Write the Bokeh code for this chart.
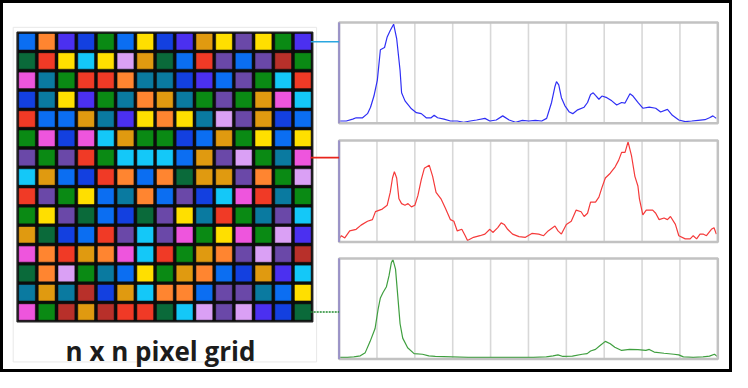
from bokeh.plotting import figure
from bokeh.models import Range1d
from bokeh.embed import file_html
from bokeh.resources import INLINE
from bokeh.core.properties import value

# ---------------- data ----------------
color_codes = {
    "B": "#0b6ef2", "D": "#1340e0", "V": "#4b30f0", "P": "#6a48a8",
    "O": "#ff8530", "A": "#e09a10", "Y": "#ffdf00", "G": "#0a8a14",
    "K": "#0a6a3a", "R": "#f03a26", "M": "#b8302a", "C": "#14c8f8",
    "L": "#daa0f5", "T": "#0a7aa0", "Z": "#ee55dd",
}
grid_rows = [
    "BOVDGBYDVAYPYGV",
    "KRYCYLAKBRPBPMG",
    "ZTGRROTTDVBPGCR",
    "DTYVGTOATGPGAZC",
    "RBBATVYOYTLPADB",
    "GZDZCAGGDBAGYBY",
    "PGPRGCCCBAPLGTZ",
    "CABDROBOKAAPOGL",
    "RPGYBTOBPDCZRTG",
    "GYPKBDKPYTRGTPC",
    "AKDBRPCPZGYZGLV",
    "ZORAOZCRGAOPLPM",
    "KOLGTBYGAOBDAVC",
    "TATMDACOOBPPTBY",
    "ZGMAMRRKCLPLVDK",
]
grid_label = "n x n pixel grid"
probe_rows = [0, 6, 14]  # grid rows linked to the three spectra

blue_x = [0.00, 0.19, 0.36, 0.45, 0.62, 0.75, 0.83, 0.92, 1.01, 1.09, 1.20, 1.27, 1.35, 1.44, 1.52, 1.61,
          1.65, 1.74, 1.91, 2.04, 2.17, 2.30, 2.43, 2.51, 2.60, 2.77, 2.94, 3.12, 3.29, 3.46, 3.63, 3.85,
          3.98, 4.15, 4.32, 4.49, 4.66, 4.84, 5.01, 5.18, 5.35, 5.48, 5.61, 5.70, 5.74, 5.80, 5.87, 5.96,
          6.08, 6.17, 6.30, 6.47, 6.56, 6.64, 6.71, 6.77, 6.86, 6.94, 7.07, 7.20, 7.33, 7.46, 7.55, 7.68,
          7.76, 7.89, 8.02, 8.19, 8.36, 8.49, 8.67, 8.80, 8.97, 9.14, 9.31, 9.48, 9.66, 9.78, 9.87, 9.96]
blue_y = [2.2, 2.2, 4.1, 5.4, 5.4, 9.5, 15.9, 27.0, 42.9, 73.0, 75.2, 85.7, 92.1, 98.4, 84.1, 52.4,
          30.2, 22.2, 14.3, 10.5, 9.5, 5.4, 5.4, 7.9, 5.4, 4.1, 2.2, 2.2, 1.0, 2.2, 3.2, 4.8,
          2.2, 3.2, 7.3, 3.2, 1.0, 2.9, 2.2, 2.9, 2.2, 4.8, 20.6, 36.5, 41.3, 38.1, 25.4, 17.5,
          11.1, 9.5, 13.3, 15.9, 20.6, 28.6, 30.2, 27.6, 23.8, 27.0, 25.4, 22.2, 18.1, 20.6, 20.0, 29.2,
          27.0, 20.6, 14.9, 15.9, 14.9, 11.1, 13.7, 7.9, 3.2, 1.6, 2.2, 2.9, 3.5, 5.4, 7.3, 4.8]

red_x = [0.00, 0.06, 0.15, 0.28, 0.45, 0.58, 0.75, 0.88, 0.96, 1.14, 1.27, 1.35, 1.41, 1.46, 1.52, 1.58,
         1.65, 1.74, 1.82, 1.91, 2.00, 2.08, 2.17, 2.25, 2.38, 2.47, 2.56, 2.69, 2.81, 2.94, 3.03, 3.12,
         3.24, 3.33, 3.39, 3.55, 3.72, 3.85, 3.98, 4.06, 4.19, 4.28, 4.36, 4.45, 4.58, 4.75, 4.92, 5.09,
         5.27, 5.40, 5.52, 5.70, 5.78, 5.87, 6.00, 6.13, 6.26, 6.39, 6.47, 6.56, 6.64, 6.77, 6.86, 6.94,
         7.03, 7.16, 7.29, 7.38, 7.46, 7.55, 7.63, 7.72, 7.81, 7.89, 7.93, 8.02, 8.11, 8.28, 8.36, 8.45,
         8.58, 8.67, 8.75, 8.88, 8.97, 9.14, 9.27, 9.35, 9.44, 9.53, 9.61, 9.70, 9.83, 9.90, 9.96]
red_y = [3.2, 6.3, 4.1, 11.0, 12.6, 16.7, 20.5, 22.1, 30.0, 32.5, 36.3, 48.9, 63.1, 69.4, 63.1, 42.6,
         37.9, 36.3, 37.9, 34.7, 36.3, 45.7, 61.5, 72.6, 75.7, 64.7, 48.9, 42.6, 33.1, 22.1, 20.5, 11.0,
         12.6, 6.3, 1.6, 4.7, 6.3, 7.9, 12.6, 9.5, 14.2, 18.9, 17.4, 12.6, 7.9, 5.4, 4.7, 8.5,
         7.9, 6.3, 11.0, 15.8, 11.0, 7.9, 17.4, 20.5, 31.5, 29.9, 25.2, 28.4, 39.4, 39.4, 44.2, 53.6,
         63.1, 67.8, 74.1, 80.4, 88.3, 88.3, 98.7, 85.2, 64.7, 55.2, 42.6, 26.8, 31.5, 31.5, 28.4, 22.1,
         23.7, 22.1, 25.2, 17.4, 6.3, 3.2, 3.2, 6.3, 3.2, 7.9, 7.9, 6.3, 12.6, 14.2, 7.9]

green_x = [0.00, 0.22, 0.39, 0.56, 0.69, 0.82, 0.95, 1.03, 1.09, 1.16, 1.25, 1.32, 1.38, 1.42, 1.49, 1.55,
           1.61, 1.68, 1.81, 1.98, 2.20, 2.37, 2.54, 2.97, 3.41, 3.84, 4.27, 4.70, 5.13, 5.47, 5.65, 5.78,
           5.91, 6.16, 6.42, 6.55, 6.64, 6.77, 6.90, 7.03, 7.16, 7.28, 7.46, 7.67, 7.89, 8.10, 8.19, 8.32,
           8.58, 8.84, 8.97, 9.09, 9.35, 9.61, 9.78, 9.91, 10.0]
green_y = [1.6, 1.6, 2.2, 3.2, 6.4, 17.6, 30.4, 49.5, 60.7, 66.1, 71.9, 83.1, 95.8, 99.0, 89.4, 62.3,
           35.1, 20.8, 11.2, 5.4, 4.8, 3.2, 2.6, 2.2, 1.6, 1.6, 1.6, 1.6, 1.6, 2.2, 3.2, 4.2,
           2.6, 2.9, 4.8, 5.4, 8.0, 9.6, 13.7, 17.6, 15.3, 11.8, 8.6, 9.6, 9.3, 8.6, 9.6, 7.0,
           5.8, 4.8, 4.2, 2.2, 1.6, 2.2, 2.9, 4.8, 2.2]

spectra = [(blue_x, blue_y, "#2f2ff5", "#2aa6e0"),
           (red_x, red_y, "#f53a3a", "#e8241c"),
           (green_x, green_y, "#3f9f3f", "#1f8a2f")]

# ---------------- layout (reference pixel geometry) ----------------
W, H = 732, 372
REF_W, REF_H = 748, 388
GRID_L, GRID_T, GRID_SIZE = 17, 33, 302
N = len(grid_rows)
cell = GRID_SIZE / N
PANEL_L, PANEL_R = 346, 733
PANELS = [(23, 128), (146, 252), (269, 374)]
X_MAX, Y_MAX = 10, 100

p = figure(width=W, height=H, output_backend="svg", toolbar_location=None,
           x_axis_location=None, y_axis_location=None, min_border=0,
           x_range=Range1d(-GRID_L / cell, (REF_W - GRID_L) / cell),
           y_range=Range1d((REF_H - GRID_T) / cell, -GRID_T / cell))
p.grid.visible = False
p.background_fill_color = "white"
p.border_fill_color = "white"
p.outline_line_color = "black"
p.outline_line_width = 5

# grid picture frame + black background
p.quad(left=[-0.2], right=[N + 0.2], top=[-0.25], bottom=[(377 - GRID_T) / cell],
       fill_color=None, line_color="#e8e8e8", line_width=1)
p.quad(left=[0], right=[N], top=[0], bottom=[N], fill_color="#0c0c0c", line_color="#222222", line_width=1.5)

xs, ys, cols = [], [], []
for r, row in enumerate(grid_rows):
    for c, code in enumerate(row):
        xs.append(c + 0.5)
        ys.append(r + 0.5)
        cols.append(color_codes[code])
p.rect(x=xs, y=ys, width=0.8, height=0.8, fill_color=cols, line_color=cols, line_alpha=0.5, line_width=1)

p.text(x=[(163.5 - GRID_L) / cell], y=[(366 - GRID_T) / cell], text=[grid_label],
       text_font=value("Open Sans"), text_font_style="bold", text_font_size="26px",
       text_align="center", text_baseline="alphabetic", text_color="#1c1c1c")

# spectra panels
span = (PANEL_R - PANEL_L) / X_MAX
p.extra_x_ranges = {"spec": Range1d(-PANEL_L / span, (REF_W - PANEL_L) / span)}
extra_y = {}
for i, (t, b) in enumerate(PANELS):
    ppu = (b - t) / Y_MAX
    extra_y[f"s{i}"] = Range1d(-(REF_H - b) / ppu, Y_MAX + t / ppu)
p.extra_y_ranges = extra_y

for i, (sx, sy, lc, cc) in enumerate(spectra):
    yr = f"s{i}"
    p.quad(left=[0], right=[X_MAX], bottom=[0], top=[Y_MAX], fill_color="white",
           line_color=None, x_range_name="spec", y_range_name=yr)
    gx = list(range(1, X_MAX))
    p.segment(x0=gx, y0=[0] * len(gx), x1=gx, y1=[Y_MAX] * len(gx),
              line_color="#d8d8d8", line_width=1.6, x_range_name="spec", y_range_name=yr)
    p.line(sx, sy, line_color=lc, line_width=1.2, x_range_name="spec", y_range_name=yr)
    p.quad(left=[0], right=[X_MAX], bottom=[0], top=[Y_MAX], fill_color=None,
           line_color="#c2c2c2", line_width=2.5, x_range_name="spec", y_range_name=yr)
    p.segment(x0=[0], y0=[0], x1=[0], y1=[Y_MAX], line_color="#9a92c8", line_width=2,
              x_range_name="spec", y_range_name=yr)
    # connector from grid pixel to its spectrum
    row = probe_rows[i]
    p.segment(x0=[N - 0.1], y0=[row + 0.5], x1=[(PANEL_L - GRID_L) / cell], y1=[row + 0.5],
              line_color=cc, line_width=1.6, line_dash="2 1" if i == 2 else "solid")

open("out.html", "w").write(file_html(p, INLINE))
